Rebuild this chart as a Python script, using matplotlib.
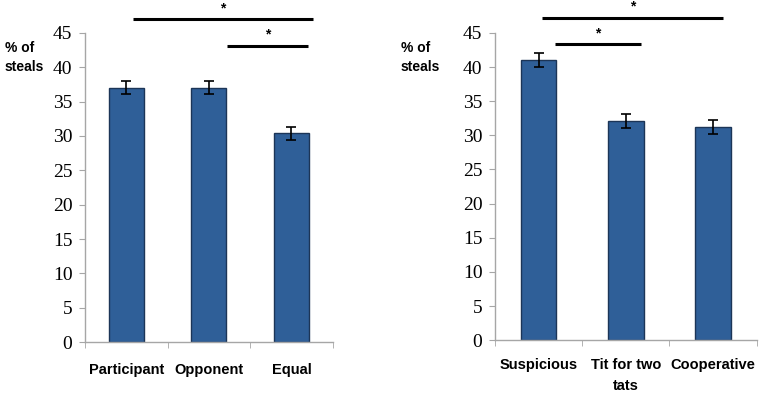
import numpy as np
import matplotlib.pyplot as plt

plt.rcParams['font.family'] = 'serif'
plt.rcParams['font.serif'] = ['Liberation Serif', 'DejaVu Serif']

left_cats = ['Participant', 'Opponent', 'Equal']
left_vals = [37.0, 37.0, 30.4]
left_err = [0.95, 0.95, 0.95]

right_cats = ['Suspicious', 'Tit for two\ntats', 'Cooperative']
right_vals = [41.0, 32.1, 31.2]
right_err = [1.0, 1.0, 1.0]

# significance lines: (x start, x end, height) in data units
left_sig = [(0.08, 2.26, 47.0), (1.22, 2.20, 43.1)]
right_sig = [(0.04, 2.11, 47.2), (0.19, 1.17, 43.3)]

bar_color = '#2F5F98'
edge_color = '#1C3557'
axis_color = '#A6A6A6'
label_font = ['Liberation Sans', 'DejaVu Sans']

fig = plt.figure(figsize=(7.65, 3.96), dpi=100)
ax1 = fig.add_axes([0.111, 0.136, 0.324, 0.781])
ax2 = fig.add_axes([0.647, 0.141, 0.342, 0.776])


def draw_panel(ax, cats, vals, errs, sig, width, pad):
    x = np.arange(len(cats))
    ax.bar(x, vals, width=width, color=bar_color, edgecolor=edge_color,
           linewidth=1.0, zorder=2)
    ax.errorbar(x, vals, yerr=errs, fmt='none', ecolor='black',
                elinewidth=1.2, capsize=3.5, capthick=1.2, zorder=3)
    ax.set_xlim(-0.5, len(cats) - 0.5)
    ax.set_ylim(0, 45)
    ax.set_yticks(range(0, 46, 5))
    ax.set_xticks(x)
    ax.set_xticklabels(cats, fontweight='bold', fontsize=10.5,
                       family=label_font, linespacing=1.6)
    ax.set_xticks(np.arange(-0.5, len(cats)), minor=True)
    ax.tick_params(axis='x', which='major', length=0, pad=pad)
    ax.tick_params(axis='x', which='minor', length=4, color=axis_color,
                   direction='out')
    ax.tick_params(axis='y', length=4, color=axis_color, pad=5,
                   labelsize=14)
    for side in ['top', 'right']:
        ax.spines[side].set_visible(False)
    for side in ['left', 'bottom']:
        ax.spines[side].set_color(axis_color)
        ax.spines[side].set_linewidth(1.0)
    for x0, x1, h in sig:
        ax.plot([x0, x1], [h, h], color='black', lw=2.2, clip_on=False,
                solid_capstyle='butt')
        ax.text((x0 + x1) / 2, h + 0.6, '*', ha='center', va='bottom',
                fontsize=10, fontweight='bold', family=label_font,
                clip_on=False)


draw_panel(ax1, left_cats, left_vals, left_err, left_sig, 0.42, 15)
draw_panel(ax2, right_cats, right_vals, right_err, right_sig, 0.41, 13)

for fx in (0.006, 0.524):
    fig.text(fx, 0.855, '% of\nsteals', fontsize=10, fontweight='bold',
             family=label_font, ha='left', va='center', linespacing=1.45)

fig.savefig('out.png', dpi=100)
